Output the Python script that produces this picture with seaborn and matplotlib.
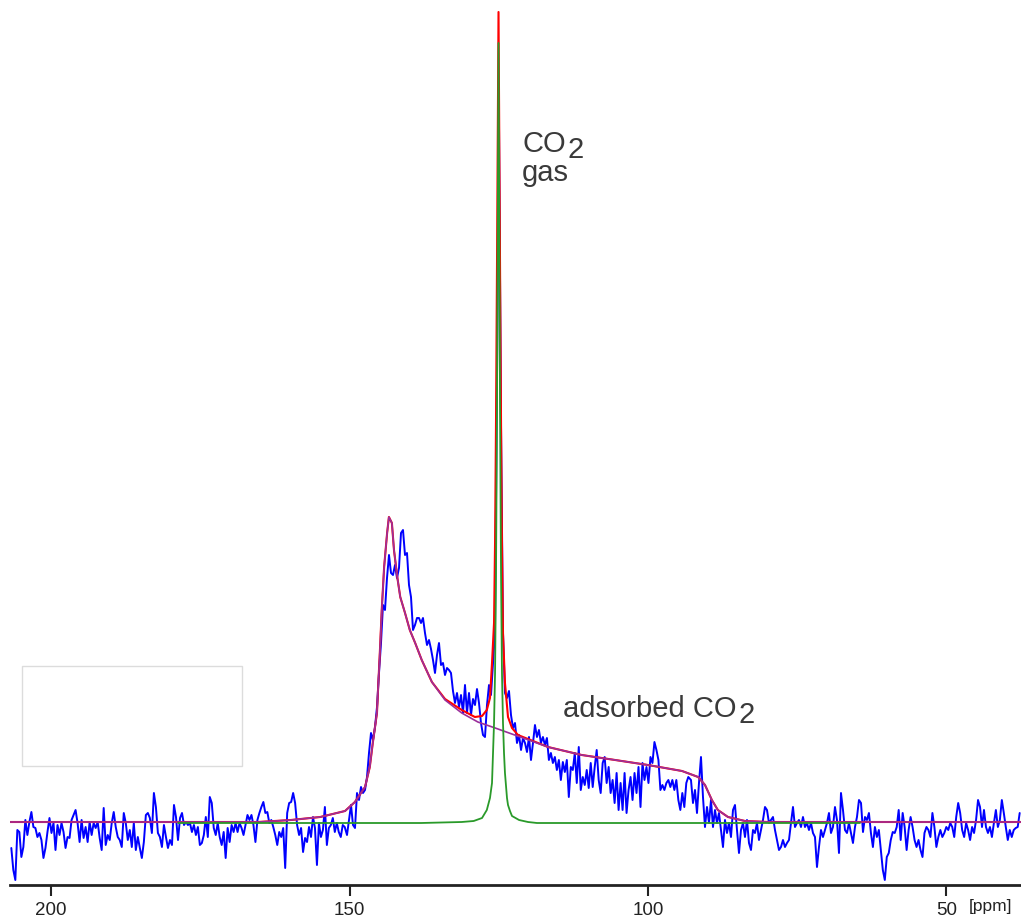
import numpy as np
import pandas as pd
import matplotlib
matplotlib.use("Agg")
import matplotlib.pyplot as plt
import seaborn as sns
from matplotlib.patches import Rectangle

# ---------------- data ----------------
# experimental spectrum (blue), intensity above baseline, six segments
blue_seg1 = [-25, -47, -57, -7, -9, -34, -24, 3, -12, 1,
             11, -4, -5, -14, -10, -17, -35, -25, -9, 5,
             -10, 0, -27, -2, -12, 0, -9, -25, -14, -15,
             3, 8, 13, 0, -19, 3, -15, -4, -19, 1,
             -12, 0, -5, 1, -15, -27, 15, -22, -12, -17,
             0, 11, -4, -14, -17, -24, 10, 0, -17, -7,
             -24, 0, -27, -14, -25, -35, -19, 8, 10, 5,
             -10, 30, 16, -10, -14, -24, -2, -14, -25, -17,
             -22, 18, 6, -17]
blue_seg2 = [5, 10, -2, 1, -2, 0, -9, -2, -12, -4,
             -22, -20, -12, 6, -14, 26, 20, -5, -12, 0,
             -14, -22, -9, -35, -5, -19, -2, -9, 0, -9,
             0, -5, -12, -2, 8, 3, 8, -2, -19, 3,
             10, 16, 21, 10, 11, 0, 3, -4, -12, -22,
             -9, -14, -5, -45, 10, 20, 21, 30, 20, -2,
             -12, -5, -29, -15, -19, -4, -14, 6, -5, -42,
             0, -14, -7, 16, -22, -5, -2, 5, -9, 0,
             -9, -14, -2, -4]
blue_seg3 = [-12, 3, 18, -2, -5, 30, 23, 36, 30, 33,
             46, 70, 90, 83, 96, 116, 150, 180, 218, 213,
             245, 268, 250, 248, 258, 245, 255, 290, 293, 268,
             270, 238, 226, 193, 198, 205, 205, 200, 205, 190,
             178, 183, 174, 163, 150, 168, 180, 158, 160, 148,
             155, 153, 150, 132, 120, 130, 116, 128, 110, 138,
             110, 130, 108, 124, 118, 134, 120, 100, 88, 86,
             118, 138, 128, 160, 191, 450, 700, 400, 190, 130,
             125, 132, 108, 95, 100, 80, 88]
blue_seg4 = [73, 85, 80, 71, 86, 63, 80, 98, 86, 93,
             80, 86, 78, 85, 63, 70, 60, 66, 53, 63,
             43, 61, 51, 63, 26, 56, 53, 70, 40, 76,
             33, 46, 38, 53, 35, 60, 36, 56, 73, 43,
             30, 60, 66, 40, 56, 30, 43, 20, 50, 13,
             40, 13, 50, 10, 33, 46, 23, 50, 30, 56,
             16, 60, 43, 56, 40, 66, 60, 81, 73, 63,
             33, 38, 33, 40, 43, 36, 43, 33, 43, 23,
             13, 30, 16, 40, 46]
blue_seg5 = [43, 20, 33, 10, 40, 66, 26, -4, 16, 0,
             23, -4, 13, 0, 10, -7, -24, 3, -10, 0,
             -14, 13, 18, -7, -30, -7, 0, -14, 3, -20,
             -27, -7, -10, 0, -17, -7, 3, 16, 13, 0,
             3, 6, -7, -17, -27, -24, -17, -24, -20, -17,
             0, 16, -4, 0, 3, -4, 6, -4, 0, -7,
             0, -10, -14, -44, -24, -7, -14, -7, 0, 10,
             -10, -4, 16, 3, -30, 30, 13, -7, -10, 0,
             -10, -20, -4, 6, 23]
blue_seg6 = [20, -9, 6, 3, 10, -10, -24, -4, -14, -7,
             -27, -47, -57, -34, -30, -17, -9, -10, -4, 13,
             -17, 10, -4, -27, -7, 6, -4, -17, -24, -17,
             -27, -34, -10, -4, -7, -14, 10, -4, -24, -14,
             -7, -14, -10, -4, -7, 0, -4, -14, 6, 20,
             10, -7, -14, 0, -7, -17, -4, -10, 3, 23,
             16, -4, 13, -4, -10, -4, -14, 0, 13, -4,
             3, 23, 10, -4, -17, -7, -14, -7, -5, -4, 10]
blue_ranges = [(206.65, 178.73), (178.39, 150.80), (150.42, 121.61),
               (121.27, 93.25), (92.80, 64.66), (64.32, 37.74)]

# adsorbed CO2 fit (purple)
purple_ppm = [206.9, 165.3, 159.8, 154.9, 150.75, 149.1, 147.4, 146.6, 146.1, 145.4,
              145.2, 144.9, 144.6, 144.2, 143.7, 143.4, 142.9, 142.55, 142.0, 141.5,
              140.7, 139.9, 139.0, 137.9, 136.2, 134.0, 131.2, 128.5, 125.6, 122.8,
              121.4, 116.75, 111.1, 105.5, 100.0, 94.3, 91.6, 90.45, 89.3, 88.3,
              86.6, 83.75, 79.9, 37.5]
purple_int = [1, 1, 3, 6, 12, 21, 36, 56, 80, 110,
              136, 173, 213, 256, 290, 306, 300, 273, 246, 226,
              210, 193, 180, 163, 141, 123, 110, 101, 95, 89,
              86, 76, 68, 63, 58, 52, 46, 38, 23, 13,
              6, 2, 1, 1]

# CO2 gas fit (green)
green_ppm = [178.7, 138.0, 131.2, 129.2, 127.8, 127.0, 126.47, 126.13, 125.96, 125.79,
             125.62, 125.46, 125.29, 125.04, 124.79, 124.62, 124.46, 124.29, 124.12, 123.96,
             123.62, 123.45, 123.12, 122.78, 121.6, 120.1, 118.6, 64.5]
green_int = [0, 0, 1, 2, 5, 13, 25, 40, 70, 100,
             150, 250, 420, 780, 420, 250, 150, 100, 70, 50,
             25, 18, 12, 7, 3, 1, 0, 0]

# total fit (red)
red_ppm = [206.9, 165.3, 159.8, 154.9, 150.75, 149.1, 147.4, 146.6, 146.1, 145.4,
           145.2, 144.9, 144.6, 144.2, 143.7, 143.4, 142.9, 142.55, 142.0, 141.5,
           140.7, 139.9, 139.0, 137.9, 136.2, 134.0, 131.2, 129.0, 127.8, 127.0,
           126.47, 126.13, 125.79, 125.62, 125.46, 125.29, 125.04, 124.79, 124.62, 124.46,
           124.29, 123.96, 123.45, 122.78, 121.78, 116.75, 111.1, 105.5, 100.0, 94.3,
           91.6, 90.45, 89.3, 88.3, 86.6, 83.75, 79.9, 37.5]
red_int = [1, 1, 3, 6, 12, 21, 36, 56, 80, 110,
           136, 173, 213, 256, 290, 306, 300, 273, 246, 226,
           210, 193, 180, 163, 141, 124, 113, 106, 107, 113,
           125, 160, 200, 280, 400, 560, 811, 560, 400, 280,
           190, 140, 106, 95, 88, 76, 68, 63, 58, 52,
           46, 38, 23, 13, 6, 2, 1, 1]

tick_values = [200, 150, 100, 50]
tick_labels = ["200", "150", "100", "50"]

# ---------------- build tables ----------------
blue_frames = []
for seg, (a, b) in zip([blue_seg1, blue_seg2, blue_seg3, blue_seg4, blue_seg5, blue_seg6], blue_ranges):
    blue_frames.append(pd.DataFrame({"ppm": np.linspace(a, b, len(seg)), "I": seg}))
blue_df = pd.concat(blue_frames, ignore_index=True)
purple_df = pd.DataFrame({"ppm": purple_ppm, "I": purple_int})
green_df = pd.DataFrame({"ppm": green_ppm, "I": green_int})
red_df = pd.DataFrame({"ppm": red_ppm, "I": red_int})

# ---------------- figure ----------------
sns.set_theme(style="white")
plt.rcParams["font.family"] = ["Liberation Sans", "DejaVu Sans"]

W, H = 1021, 917
fig = plt.figure(figsize=(W / 100, H / 100), dpi=100)
ax = fig.add_axes([10 / W, 32 / H, 1011 / W, 885 / H])

sns.lineplot(data=blue_df, x="ppm", y="I", sort=False, estimator=None, color="#0000ff", lw=1.4, ax=ax)
sns.lineplot(data=red_df, x="ppm", y="I", sort=False, estimator=None, color="#ff0000", lw=1.5, ax=ax)
sns.lineplot(data=purple_df, x="ppm", y="I", sort=False, estimator=None, color="#9b2f9b", lw=1.2, ax=ax)
sns.lineplot(data=green_df, x="ppm", y="I", sort=False, estimator=None, color="#2a9a2a", lw=1.3, ax=ax)

ax.set_xlim(206.87, 37.52)
ax.set_ylim(-62, 823)
ax.set_xlabel("")
ax.set_ylabel("")
ax.set_yticks([])
ax.set_xticks(tick_values)
ax.set_xticklabels(tick_labels)
for s in ["left", "right", "top"]:
    ax.spines[s].set_visible(False)
ax.spines["bottom"].set_linewidth(2)
ax.spines["bottom"].set_color("#222222")
ax.tick_params(axis="x", direction="out", length=8, width=1.5, labelsize=13.5,
               colors="#222222", pad=4, bottom=True)
ax.patch.set_alpha(0)

txt_color = "#3a3a3a"
fs = 21
fig.text(522 / W, 1 - 152 / H, "CO", fontsize=fs, color=txt_color, va="baseline", ha="left")
fig.text(567 / W, 1 - 158 / H, "2", fontsize=fs, color=txt_color, va="baseline", ha="left")
fig.text(522 / W, 1 - 181 / H, "gas", fontsize=fs, color=txt_color, va="baseline", ha="left")
fig.text(563 / W, 1 - 717 / H, "adsorbed CO", fontsize=fs, color=txt_color, va="baseline", ha="left")
fig.text(738 / W, 1 - 723 / H, "2", fontsize=fs, color=txt_color, va="baseline", ha="left")
fig.text(969 / W, 1 - 907 / H, "[ppm]", fontsize=12.5, color="#222222", va="center", ha="left")

fig.add_artist(Rectangle((22 / W, (H - 766) / H), 220 / W, 100 / H, transform=fig.transFigure,
                         fill=False, ec="#dcdcdc", lw=1))

fig.savefig("out.png", dpi=100)
